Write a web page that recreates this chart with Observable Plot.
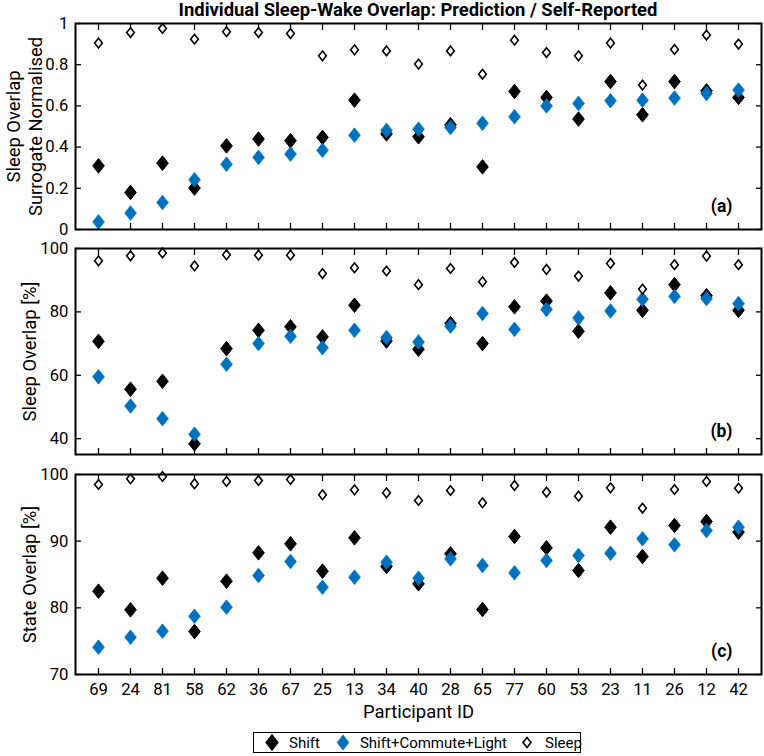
<!DOCTYPE html>
<html>
<head>
<meta charset="utf-8">
<script src="https://cdn.jsdelivr.net/npm/d3@7"></script>
<script src="https://cdn.jsdelivr.net/npm/@observablehq/plot@0.6"></script>
<style>
  html, body { margin: 0; padding: 0; background: #fff; }
  #root { position: relative; width: 764px; height: 756px; font-family: Roboto, "Noto Sans", sans-serif; color: #000; }
  #root svg { position: absolute; left: 0; overflow: visible; }
  #title { position: absolute; left: 75px; width: 686px; top: 0px; text-align: center; font-weight: bold; font-size: 18.4px; line-height: 20px; white-space: nowrap; }
  #legend { position: absolute; left: 253px; top: 732px; width: 326px; height: 19px; border: 1.5px solid #000; display: flex; align-items: center; font-size: 15px; box-sizing: content-box; }
  #legend .item { display: flex; align-items: center; }
  #legend svg { position: static; }
</style>
</head>
<body>
<div id="root">
  <div id="title">Individual Sleep-Wake Overlap: Prediction / Self-Reported</div>
  <div id="legend"></div>
</div>
<script>
const ids = ["69","24","81","58","62","36","67","25","13","34","40","28","65","77","60","53","23","11","26","12","42"];

// Panel (a): Sleep Overlap, Surrogate Normalised
const aShift = [0.309,0.180,0.322,0.201,0.406,0.439,0.431,0.447,0.628,0.464,0.450,0.508,0.304,0.670,0.641,0.536,0.718,0.557,0.718,0.673,0.641];
const aSCL   = [0.037,0.080,0.131,0.241,0.317,0.350,0.366,0.385,0.458,0.481,0.487,0.495,0.516,0.547,0.600,0.612,0.625,0.628,0.638,0.660,0.677];
const aSleep = [0.905,0.956,0.976,0.924,0.960,0.956,0.951,0.843,0.872,0.867,0.803,0.867,0.754,0.919,0.859,0.843,0.905,0.701,0.874,0.944,0.900];

// Panel (b): Sleep Overlap [%]
const bShift = [70.7,55.6,58.1,38.4,68.4,74.2,75.3,72.1,82.1,70.8,68.2,76.3,70.0,81.6,83.4,73.9,86.0,80.5,88.6,85.1,80.5];
const bSCL   = [59.5,50.3,46.3,41.4,63.5,70.0,72.3,68.7,74.2,71.9,70.5,75.5,79.5,74.5,80.8,78.1,80.3,84.0,84.9,84.2,82.6];
const bSleep = [96.1,97.7,98.6,94.5,98.0,97.9,97.9,92.1,93.9,92.9,88.6,93.7,89.5,95.6,93.4,91.3,95.3,87.2,94.9,97.6,94.9];

// Panel (c): State Overlap [%]
const cShift = [82.5,79.7,84.45,76.45,84.0,88.25,89.6,85.5,90.5,86.2,83.6,88.1,79.75,90.7,89.0,85.6,92.1,87.7,92.35,92.95,91.35];
const cSCL   = [74.1,75.6,76.5,78.75,80.1,84.85,86.95,83.1,84.6,86.85,84.45,87.35,86.35,85.25,87.1,87.85,88.2,90.35,89.45,91.6,92.1];
const cSleep = [98.5,99.35,99.7,98.6,98.95,99.1,99.25,96.95,97.7,97.25,96.1,97.6,95.75,98.35,97.35,96.75,98.0,94.95,97.75,98.95,97.95];

const seriesNames = ["Shift", "Shift+Commute+Light", "Sleep"];
const aTicks = [0, 0.2, 0.4, 0.6, 0.8, 1];
const bTicks = [40, 60, 80, 100];
const cTicks = [70, 80, 90, 100];

const blue = "#0072BD";

// MATLAB-like diamond marker (taller than wide)
const diamond = {
  draw(ctx, size) {
    const r = Math.sqrt(size / Math.PI);
    const h = r * 1.3, w = h * 0.8;
    ctx.moveTo(0, -h); ctx.lineTo(w, 0); ctx.lineTo(0, h); ctx.lineTo(-w, 0); ctx.closePath();
  }
};

const rows = arr => ids.map((id, i) => ({id, v: arr[i]}));

function panel({shift, scl, sleep, domain, ticks, label, tag, frameH, top, marginBottom, showX, labelDx}) {
  const marginTop = 10;
  const fs = 16.7, lfs = 18.4;
  const p = Plot.plot({
    width: 764,
    height: marginTop + frameH + marginBottom,
    marginLeft: 75, marginRight: 3, marginTop, marginBottom,
    style: {fontFamily: "Roboto, 'Noto Sans', sans-serif", fontSize: fs + "px", color: "#000", background: "transparent"},
    x: {type: "point", domain: ids, padding: 0.5},
    y: {domain, ticks},
    marks: [
      Plot.axisX({anchor: "bottom", tickSize: -6, strokeWidth: 1.3, tickPadding: 15, fill: showX ? "#000" : "none", label: null, fontSize: fs}),
      Plot.axisX({anchor: "top", tickSize: -6, strokeWidth: 1.3, fill: "none", label: null}),
      Plot.axisY({anchor: "left", ticks, tickSize: -6, strokeWidth: 1.3, tickPadding: 13, tickFormat: d => String(d), label: null, fontSize: fs}),
      Plot.axisY({anchor: "right", ticks, tickSize: -6, strokeWidth: 1.3, fill: "none", label: null}),
      Plot.dot(rows(shift), {x: "id", y: "v", symbol: diamond, r: 5.6, fill: "#000", stroke: "#000", strokeWidth: 1}),
      Plot.dot(rows(scl), {x: "id", y: "v", symbol: diamond, r: 5.6, fill: blue, stroke: blue, strokeWidth: 0.8}),
      Plot.dot(rows(sleep), {x: "id", y: "v", symbol: diamond, r: 3.7, fill: "#fff", stroke: "#000", strokeWidth: 1.6}),
      Plot.frame({stroke: "#000", strokeWidth: 2}),
      Plot.text([tag], {frameAnchor: "bottom-right", dx: -29, dy: -18, fontWeight: "bold", fontSize: 17.5}),
      Plot.text([label], {frameAnchor: "left", rotate: -90, dx: labelDx, textAnchor: "middle", lineAnchor: "middle", lineHeight: 1.2, fontSize: lfs}),
      showX ? Plot.text(["Participant ID"], {frameAnchor: "bottom", dy: 38, lineAnchor: "middle", fontSize: lfs}) : null
    ]
  });
  p.style.top = (top - marginTop) + "px";
  document.getElementById("root").appendChild(p);
}

panel({shift: aShift, scl: aSCL, sleep: aSleep, domain: [0, 1], ticks: aTicks,
  label: "Sleep Overlap\nSurrogate Normalised", tag: "(a)", frameH: 206, top: 23, marginBottom: 6, showX: false, labelDx: -52});
panel({shift: bShift, scl: bSCL, sleep: bSleep, domain: [35, 100], ticks: bTicks,
  label: "Sleep Overlap [%]", tag: "(b)", frameH: 206, top: 248, marginBottom: 6, showX: false, labelDx: -47});
panel({shift: cShift, scl: cSCL, sleep: cSleep, domain: [70, 100], ticks: cTicks,
  label: "State Overlap [%]", tag: "(c)", frameH: 200, top: 474, marginBottom: 56, showX: true, labelDx: -47});

// Legend
const legend = document.getElementById("legend");
const legendStyles = [
  {fill: "#000", stroke: "#000", sw: 1, w: 6.2, h: 8},
  {fill: blue, stroke: blue, sw: 0.8, w: 5.8, h: 7.5},
  {fill: "#fff", stroke: "#000", sw: 1.6, w: 4, h: 5}
];
const gaps = [{pad: 9, gap: 8}, {pad: 14, gap: 8}, {pad: 11, gap: 9}];
seriesNames.forEach((name, i) => {
  const s = legendStyles[i];
  const item = document.createElement("div");
  item.className = "item";
  item.style.marginLeft = gaps[i].pad + "px";
  const ns = "http://www.w3.org/2000/svg";
  const svg = document.createElementNS(ns, "svg");
  svg.setAttribute("width", 18); svg.setAttribute("height", 19);
  const path = document.createElementNS(ns, "path");
  path.setAttribute("d", `M9,${9.5 - s.h}L${9 + s.w},9.5L9,${9.5 + s.h}L${9 - s.w},9.5Z`);
  path.setAttribute("fill", s.fill); path.setAttribute("stroke", s.stroke); path.setAttribute("stroke-width", s.sw);
  svg.appendChild(path);
  item.appendChild(svg);
  const t = document.createElement("span");
  t.textContent = name;
  t.style.marginLeft = gaps[i].gap + "px";
  item.appendChild(t);
  legend.appendChild(item);
});
</script>
</body>
</html>
